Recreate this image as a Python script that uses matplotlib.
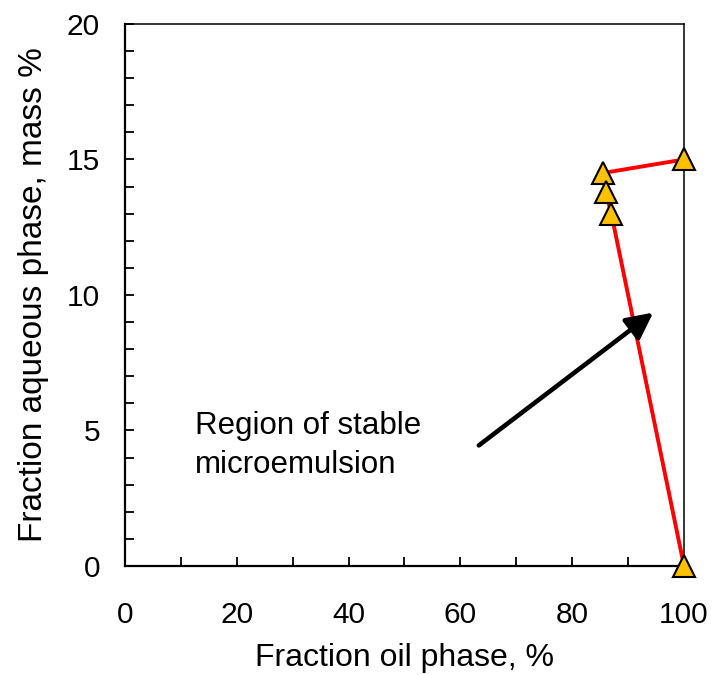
import matplotlib.pyplot as plt
from matplotlib.ticker import MultipleLocator

plt.rcParams['font.family'] = ['Liberation Sans', 'DejaVu Sans']

# phase boundary points (oil %, aqueous %)
oil_frac = [100, 85.5, 86, 87, 100]
aq_frac = [15, 14.5, 13.8, 13.0, 0]

arrow_tail = (63.3, 4.45)
arrow_head = (94.5, 9.35)
region_label = "Region of stable\nmicroemulsion"

fig = plt.figure(figsize=(7.14, 6.75), dpi=100)
ax = fig.add_axes([0.175, 0.1615, 0.783, 0.803])

ax.plot(oil_frac, aq_frac, color='red', lw=2.8, zorder=3, clip_on=False)
ax.plot(oil_frac, aq_frac, ls='none', marker='^', ms=16, mfc='#FFC000',
        mec='black', mew=1.5, zorder=4, clip_on=False)

ax.annotate('', xy=arrow_head, xytext=arrow_tail,
            arrowprops=dict(arrowstyle='-|>', lw=3.3, color='black',
                            mutation_scale=40, shrinkA=0, shrinkB=0))
ax.text(12.5, 4.45, region_label, ha='left', va='center', fontsize=22.5,
        linespacing=1.4)

ax.set_xlim(0, 100)
ax.set_ylim(0, 20)
ax.xaxis.set_major_locator(MultipleLocator(20))
ax.xaxis.set_minor_locator(MultipleLocator(10))
ax.yaxis.set_major_locator(MultipleLocator(5))
ax.yaxis.set_minor_locator(MultipleLocator(1))
ax.tick_params(which='both', direction='in', length=6.5, width=1.3,
               labelsize=21.5)
ax.tick_params(axis='x', pad=25)
ax.tick_params(axis='y', pad=18)

for side in ['left', 'bottom']:
    ax.spines[side].set_linewidth(1.6)
for side in ['top', 'right']:
    ax.spines[side].set_linewidth(1.1)

ax.set_xlabel('Fraction oil phase, %', fontsize=23, labelpad=10)
ax.set_ylabel('Fraction aqueous phase, mass %', fontsize=24, labelpad=13)

fig.savefig('out.png', dpi=100)
